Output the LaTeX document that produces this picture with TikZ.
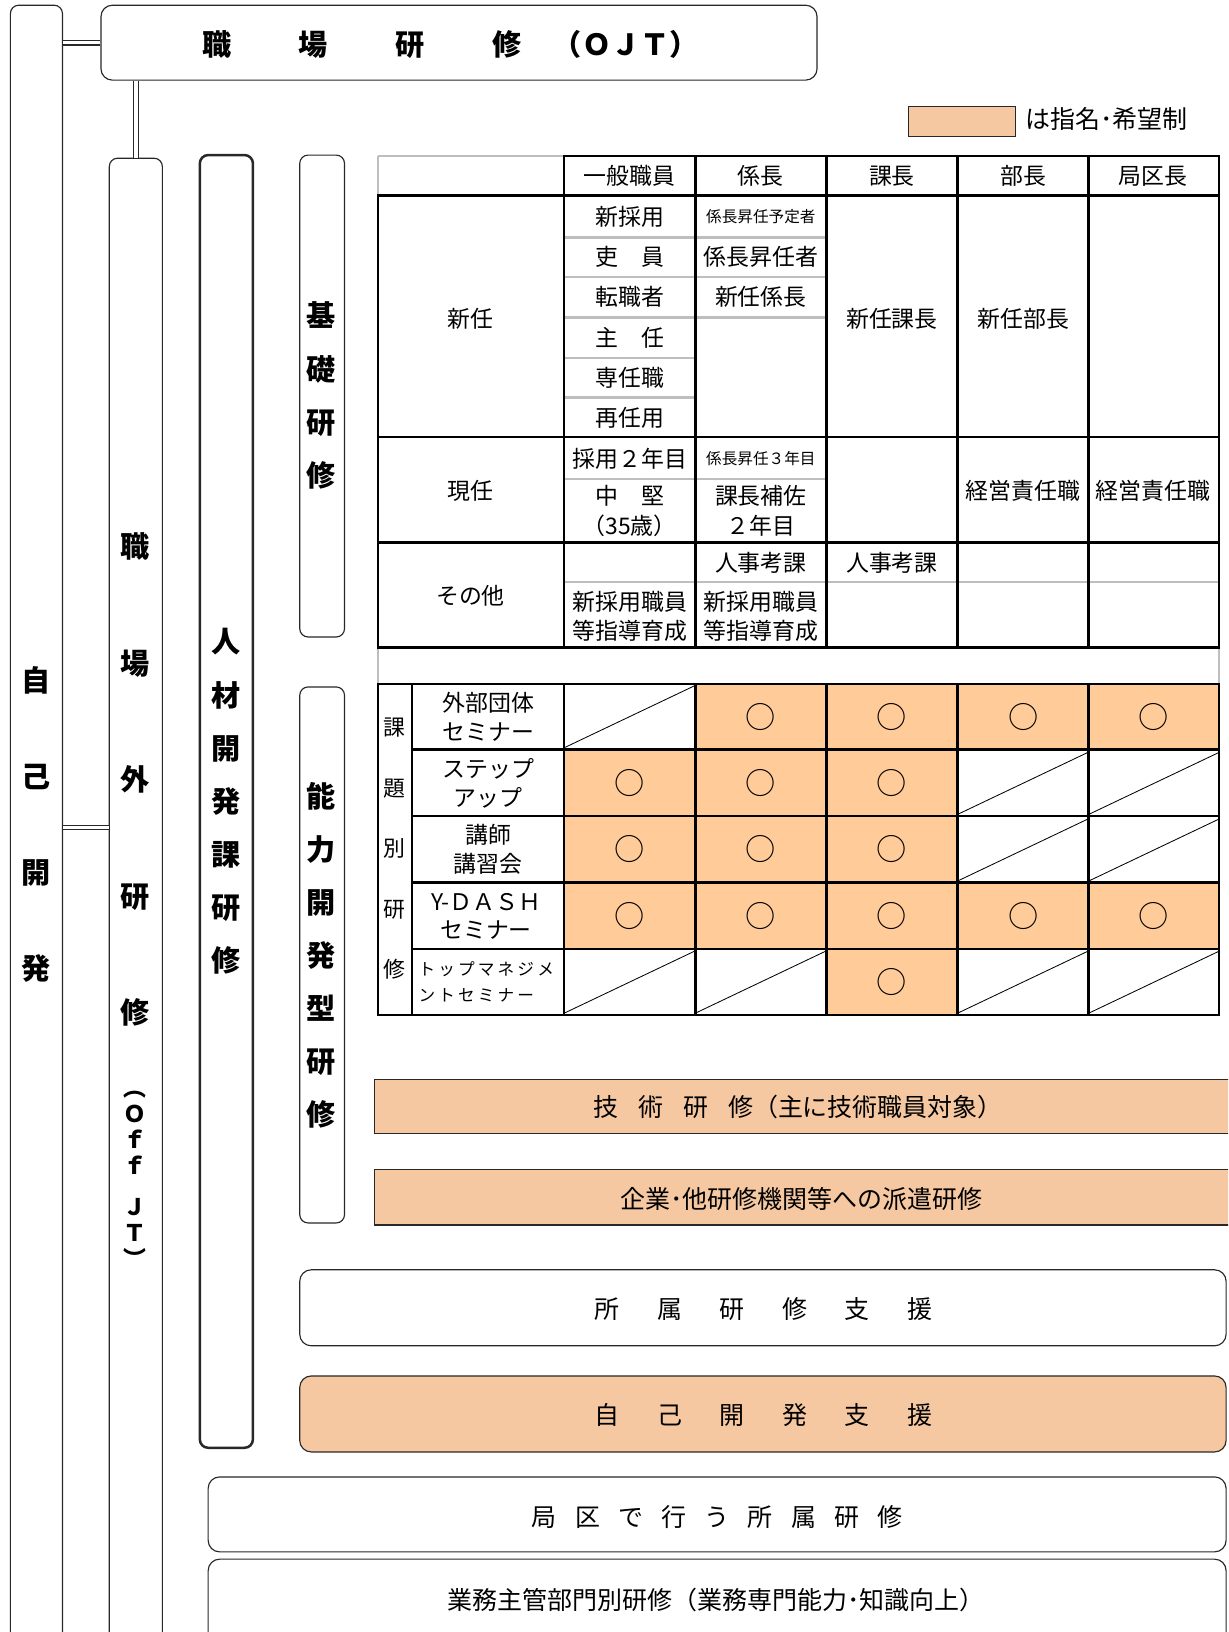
\documentclass[tikz,border=0pt]{standalone}
\usepackage{fontspec}
\setmainfont{Noto Sans CJK JP}
\definecolor{cellor}{RGB}{255,204,153}
\definecolor{baror}{RGB}{245,200,162}
\definecolor{lgray}{RGB}{190,190,190}
\definecolor{boxln}{RGB}{40,40,40}
\newcommand\gp[1]{\hspace{#1pt}}
\begin{document}
\begin{tikzpicture}[x=1pt,y=-1pt,
  vbox/.style={draw=boxln,line width=1.1pt,rounded corners=8pt,fill=white,inner sep=0pt},
  hbox/.style={draw=boxln,line width=1.1pt,rounded corners=11pt,inner sep=0pt},
  sqbar/.style={draw=boxln,line width=1.1pt,fill=baror,inner sep=0pt},
  dbl/.style={draw=boxln,double=white,double distance=3.5pt,line width=1pt},
  vt/.style={font=\fontsize{28}{51}\selectfont\bfseries,align=center,inner sep=0pt},
  tt/.style={font=\fontsize{22}{26}\selectfont,inner sep=0pt},
  st/.style={font=\fontsize{15}{18}\selectfont,inner sep=0pt},
  blk/.style={line width=2.4pt,black,line cap=rect},
  gry/.style={line width=2.4pt,lgray},
  diag/.style={line width=0.8pt,black},
  circ/.style={font=\fontsize{29}{30}\selectfont,inner sep=0pt},
  bt/.style={font=\fontsize{24}{28}\selectfont,inner sep=0pt},
]
\clip (0,0) rectangle (1180,1568);
\fill[white] (0,0) rectangle (1180,1568);

% ---------- vertical boxes ----------
\node[vbox,minimum width=50pt,minimum height=1600pt] (jiko) at (35,805) {};
\node[vbox,minimum width=51pt,minimum height=1450pt] (offjt) at (130.5,877) {};
\node[vbox,line width=2.4pt,minimum width=51pt,minimum height=1242pt] (jinzai) at (217.5,770) {};
\node[vbox,minimum width=43pt,minimum height=463pt] (kiso) at (309.5,380.5) {};
\node[vbox,minimum width=43pt,minimum height=515pt] (noryoku) at (309.5,917.5) {};
\node[vbox,rounded corners=11pt,minimum width=688pt,minimum height=72pt] (ojt) at (441,41) {};

% ---------- connectors ----------
\draw[dbl] (ojt.west) -- (ojt.west -| jiko.east);
\draw[dbl] (offjt.north) -- (offjt.north |- ojt.south);
\coordinate (j2) at (jiko.east |- 0,795);
\draw[dbl] (j2) -- (j2 -| offjt.west);

% ---------- vertical labels ----------
\node[vt,font=\fontsize{28}{92}\selectfont\bfseries] (tjiko) at (35,792) {自\\己\\開\\発};
\node[vt,font=\fontsize{28}{112}\selectfont\bfseries] (toff1) at (130,749) {職\\場\\外\\研\\修};
\node[vt,font=\fontsize{22}{25}\selectfont\bfseries] (toff2) at (130,1133) {︵\\Ｏ\\ｆ\\ｆ\\[15pt]Ｊ\\Ｔ\\︶};
\node[vt] (tjinzai) at (217,770) {人\\材\\開\\発\\課\\研\\修};
\node[vt] (tkiso) at (308,380) {基\\礎\\研\\修};
\node[vt] (tnoryoku) at (308,918) {能\\力\\開\\発\\型\\研\\修};
\node[font=\fontsize{28}{30}\selectfont\bfseries,anchor=west,inner sep=0pt] (tojt) at (194,43) {職\gp{65}場\gp{65}研\gp{65}修\gp{30}（ＯＪＴ）};

% ---------- legend ----------
\node[draw=boxln,line width=1.1pt,fill=baror,minimum width=103pt,minimum height=29pt,inner sep=0pt] (leg) at (924.5,116.5) {};
\node[font=\fontsize{24}{26}\selectfont,anchor=west,inner sep=0pt] (legt) at (985,114) {は指名･希望制};

% ---------- table 1 ----------
\draw[gry] (363,150) -- (542,150);
\draw[gry] (363,150) -- (363,657);
\draw[gry] (1171,622) -- (1171,657);
\foreach \y in {228,266,305,344,382} \draw[gry] (542,\y) -- (668,\y);
\foreach \y in {228,266,305} \draw[gry] (668,\y) -- (794,\y);
\draw[gry] (542,460) -- (794,460);
\draw[gry] (542,559) -- (1171,559);
\draw[blk] (542,150) -- (1171,150);
\foreach \y in {188,420,521,622} \draw[blk] (363,\y) -- (1171,\y);
\foreach \x in {542,668,794,920,1046,1171} \draw[blk] (\x,150) -- (\x,622);
\draw[blk] (363,188) -- (363,622);

\node[tt] (h1) at (605,169) {一般職員};
\node[tt] (h2) at (731,169) {係長};
\node[tt] (h3) at (857,169) {課長};
\node[tt] (h4) at (983,169) {部長};
\node[tt] (h5) at (1108,169) {局区長};

\node[tt] (sn) at (452,306) {新任};
\node[tt] (a1) at (605,208) {新採用};
\node[tt] (a2) at (605,247) {吏\gp{22}員};
\node[tt] (a3) at (605,285) {転職者};
\node[tt] (a4) at (605,325) {主\gp{22}任};
\node[tt] (a5) at (605,363) {専任職};
\node[tt] (a6) at (605,401) {再任用};
\node[st] (b1) at (731,208) {係長昇任予定者};
\node[tt] (b2) at (731,247) {係長昇任者};
\node[tt] (b3) at (731,285) {新任係長};
\node[tt] (c1) at (857,306) {新任課長};
\node[tt] (d1) at (983,306) {新任部長};

\node[tt] (gn) at (452,472) {現任};
\node[tt] (a7) at (605,441) {採用２年目};
\node[tt] (a8) at (605,476) {中\gp{22}堅};
\node[tt] (a9) at (605,505) {（35歳）};
\node[st] (b4) at (731,441) {係長昇任３年目};
\node[tt] (b5) at (731,476) {課長補佐};
\node[tt] (b6) at (731,505) {２年目};
\node[tt] (d2) at (983,472) {経営責任職};
\node[tt] (e2) at (1108,472) {経営責任職};

\node[tt] (so) at (452,572) {その他};
\node[tt] (b7) at (731,541) {人事考課};
\node[tt] (c3) at (857,541) {人事考課};
\node[tt] (a10) at (605,578) {新採用職員};
\node[tt] (a11) at (605,606) {等指導育成};
\node[tt] (b8) at (731,578) {新採用職員};
\node[tt] (b9) at (731,606) {等指導育成};

% ---------- table 2 ----------
\fill[cellor] (668,657) rectangle (1171,720);
\fill[cellor] (542,720) rectangle (920,784);
\fill[cellor] (542,784) rectangle (920,848);
\fill[cellor] (542,848) rectangle (1171,912);
\fill[cellor] (794,912) rectangle (920,975);

\foreach \xa/\ya in {542/720, 920/784, 1046/784, 920/848, 1046/848, 542/975, 668/975, 920/975, 1046/975}
  \draw[diag] (\xa+1,\ya-2) -- (\xa+125,\ya-61);

\draw[blk] (363,657) rectangle (1171,975);
\foreach \y in {720,784,848,912} \draw[blk] (396,\y) -- (1171,\y);
\foreach \x in {396,542,668,794,920,1046} \draw[blk] (\x,657) -- (\x,975);

\foreach \r/\yy/\cols in {1/688.5/{731,857,983,1108}, 2/752/{605,731,857}, 3/816/{605,731,857}, 4/880/{605,731,857,983,1108}, 5/943.5/{857}}
  \foreach \xx [count=\k] in \cols
    \node[circ] (o\r-\k) at (\xx,\yy) {○};

\node[tt,font=\fontsize{21}{58}\selectfont,align=center] (kadai) at (379,815.5) {課\\題\\別\\研\\修};
\node[tt] (r1a) at (469,675) {外部団体};
\node[tt] (r1b) at (469,703) {セミナー};
\node[tt] (r2a) at (469,739) {ステップ};
\node[tt] (r2b) at (469,767) {アップ};
\node[tt] (r3a) at (469,802) {講師};
\node[tt] (r3b) at (469,830) {講習会};
\node[tt] (r4a) at (467,867) {Y-ＤＡＳＨ};
\node[tt] (r4b) at (467,894) {セミナー};
\node[tt,font=\fontsize{16}{18}\selectfont,anchor=west] (r5a) at (402,931) {ト\gp{3}ッ\gp{3}プ\gp{3}マ\gp{3}ネ\gp{3}ジ\gp{3}メ};
\node[tt,font=\fontsize{16}{18}\selectfont,anchor=west] (r5b) at (402,956) {ン\gp{3}ト\gp{3}セ\gp{3}ミ\gp{3}ナ\gp{3}ー};

% ---------- lower bars ----------
\node[sqbar,minimum width=830pt,minimum height=52pt] (gijutsu) at (775,1063) {};
\node[bt] (tgij) at (767,1064) {技\gp{19}術\gp{19}研\gp{19}修（主に技術職員対象）};
\node[sqbar,minimum width=830pt,minimum height=53pt] (haken) at (775,1150.5) {};
\node[bt] (thaken) at (770,1152) {企業･他研修機関等への派遣研修};

\node[hbox,fill=white,minimum width=890pt,minimum height=73pt] (shozoku) at (733,1256.5) {};
\node[bt] (tshozoku) at (733.5,1258) {所\gp{36}属\gp{36}研\gp{36}修\gp{36}支\gp{36}援};
\node[hbox,fill=baror,minimum width=890pt,minimum height=73pt] (jikoshien) at (733,1358.5) {};
\node[bt] (tjikoshien) at (733.5,1360) {自\gp{36}己\gp{36}開\gp{36}発\gp{36}支\gp{36}援};
\node[hbox,fill=white,minimum width=978pt,minimum height=72pt] (kyokuku) at (689,1455) {};
\node[bt] (tkyokuku) at (689,1458) {局\gp{17.5}区\gp{17.5}で\gp{17.5}行\gp{17.5}う\gp{17.5}所\gp{17.5}属\gp{17.5}研\gp{17.5}修};
\node[hbox,fill=white,minimum width=978pt,minimum height=110pt] (gyomu) at (689,1553) {};
\node[bt] (tgyomu) at (688,1537) {業務主管部門別研修（業務専門能力･知識向上）};
\end{tikzpicture}
\end{document}
